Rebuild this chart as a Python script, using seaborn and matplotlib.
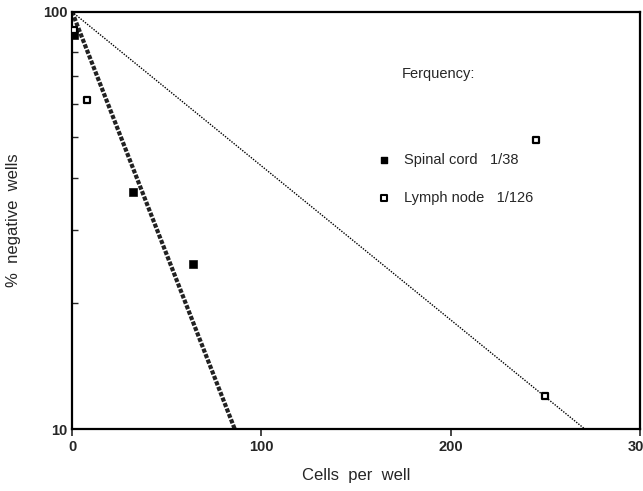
#!/usr/bin/env python
import matplotlib
matplotlib.use('Agg')
import matplotlib.pyplot as plt
import matplotlib.ticker as mticker
import pandas as pd
import seaborn as sb

# limiting dilution data
spinal_cells = [1, 32, 64]
spinal_neg = [88, 36.9, 24.9]
lymph_cells = [1, 8, 245, 250]
lymph_neg = [90.5, 61.6, 49.4, 12.0]

# fitted lines (start / end points)
spinal_fit_x = [0, 86]
spinal_fit_y = [100, 10]
lymph_fit_x = [0, 271]
lymph_fit_y = [100, 10]

legend_labels = ['Spinal cord   1/38', 'Lymph node   1/126']


def main():
	sb.set_theme(style='white')
	plt.rcParams['font.family'] = ['Liberation Sans', 'DejaVu Sans']

	fig = plt.figure(figsize=(6.43, 4.91), dpi=100)
	ax = fig.add_axes([0.112, 0.126, 0.883, 0.85])

	sb.lineplot(x=spinal_fit_x, y=spinal_fit_y, ax=ax, color='#222222',
		linewidth=3.0, linestyle=(0, (1, 0.4)))
	sb.lineplot(x=lymph_fit_x, y=lymph_fit_y, ax=ax, color='black',
		linewidth=1.0, linestyle=(0, (1, 1)))

	sc = pd.DataFrame({'x': spinal_cells, 'y': spinal_neg})
	ln = pd.DataFrame({'x': lymph_cells, 'y': lymph_neg})
	sb.scatterplot(data=sc, x='x', y='y', ax=ax, marker='s', s=30,
		color='black', edgecolor='black', zorder=5)
	sb.scatterplot(data=ln, x='x', y='y', ax=ax, marker='s', s=22,
		facecolor='white', edgecolor='black', linewidth=1.6, zorder=6)

	ax.set_yscale('log')
	ax.set_xlim(0, 300)
	ax.set_ylim(10, 100)
	ax.set_xticks([0, 100, 200, 300])
	ax.yaxis.set_major_locator(mticker.FixedLocator([10, 100]))
	ax.yaxis.set_major_formatter(mticker.FormatStrFormatter('%d'))
	ax.yaxis.set_minor_locator(mticker.LogLocator(base=10, subs=range(2, 10)))
	ax.yaxis.set_minor_formatter(mticker.NullFormatter())

	ax.tick_params(axis='x', direction='out', length=5, width=1.2,
		labelsize=10.5, pad=3, bottom=True)
	ax.tick_params(axis='y', which='major', direction='out', length=0,
		labelsize=10.5, pad=3)
	ax.tick_params(axis='y', which='minor', direction='in', length=4, width=1.0,
		left=True)
	for lbl in ax.get_xticklabels() + ax.get_yticklabels():
		lbl.set_fontweight('bold')

	for s in ax.spines.values():
		s.set_color('black')
		s.set_linewidth(1.6)

	ax.set_xlabel('Cells  per  well', fontsize=12, labelpad=10)
	ax.set_ylabel('%  negative  wells', fontsize=12, labelpad=16)

	# hand-made key like in the original
	ax.text(0.58, 0.85, 'Ferquency:', transform=ax.transAxes, fontsize=10.5,
		va='center', ha='left')
	keys_y = [0.646, 0.555]
	ax.scatter([0.55], [keys_y[0]], transform=ax.transAxes, marker='s', s=22,
		color='black', clip_on=False)
	ax.scatter([0.55], [keys_y[1]], transform=ax.transAxes, marker='s', s=16,
		facecolor='white', edgecolor='black', linewidth=1.5, clip_on=False)
	for ky, txt in zip(keys_y, legend_labels):
		ax.text(0.585, ky, txt, transform=ax.transAxes, fontsize=10.5,
			va='center', ha='left')

	fig.savefig('out.png', dpi=100)


if __name__ == '__main__':
	main()
